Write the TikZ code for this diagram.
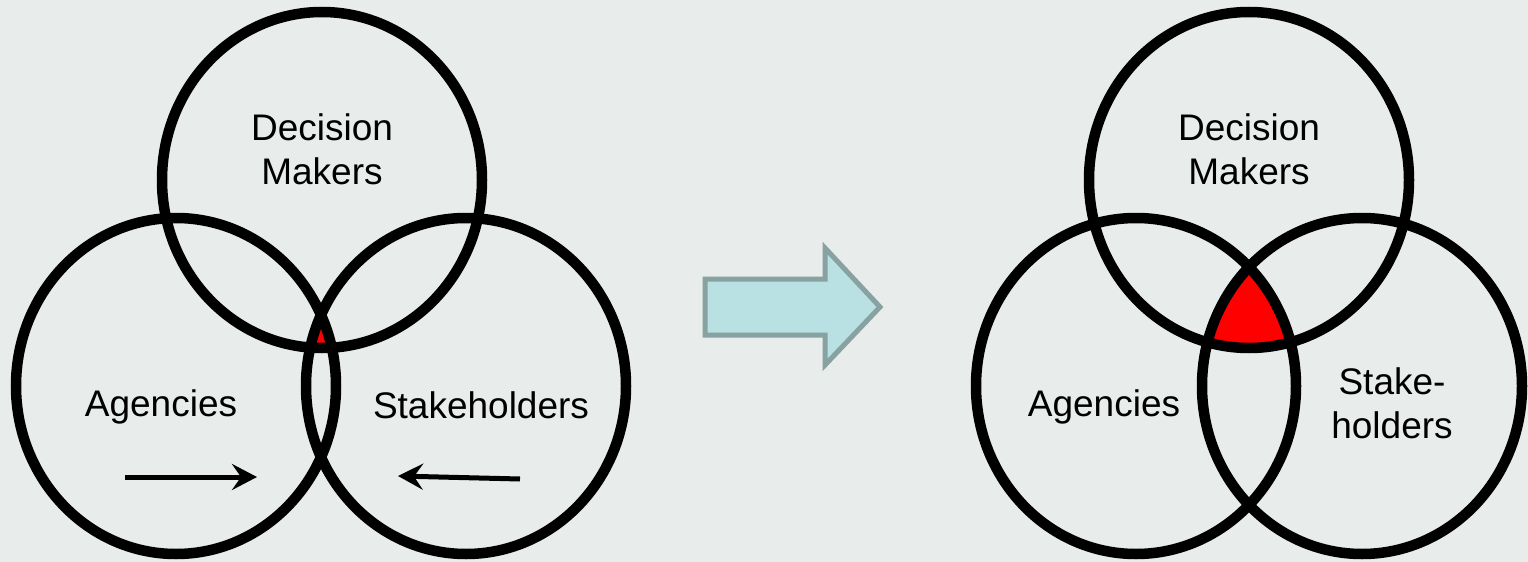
\documentclass[tikz,border=0pt]{standalone}
\usepackage{fontspec}
\setmainfont{Liberation Sans}
\usetikzlibrary{arrows.meta,positioning}

\definecolor{bggray}{HTML}{E8ECEB}
\definecolor{arrowfill}{HTML}{B9E0E3}
\definecolor{arrowline}{HTML}{88A2A2}

\tikzset{
  ring/.style={draw=black, line width=5.25pt},
  lbl/.style={align=center, font=\fontsize{18.5}{22}\selectfont, inner sep=0pt},
  flow/.style={line width=2.5pt, -{Stealth[length=12.5pt, width=13pt, inset=4.5pt]}}
}

\begin{document}
\begin{tikzpicture}[x = 0.5pt, y = -0.5pt]
\fill[bggray] (0,0) rectangle (1528,562);
\useasboundingbox (0,0) rectangle (1528,562);

% centres of the circles
\coordinate (dmL) at (322,180);
\coordinate (agL) at (176,386);
\coordinate (skL) at (466,386);
\coordinate (dmR) at (1249,180);
\coordinate (agR) at (1136,386);
\coordinate (skR) at (1362,386);

% common part in red
\begin{scope}
\clip (agL) ellipse (80pt and 84pt);
\clip (skL) ellipse (80pt and 84pt);
\fill[red] (dmL) ellipse (80pt and 84pt);
\end{scope}
\begin{scope}
\clip (agR) ellipse (80pt and 84pt);
\clip (skR) ellipse (80pt and 84pt);
\fill[red] (dmR) ellipse (80pt and 84pt);
\end{scope}

\draw[ring] (dmL) ellipse (80pt and 84pt);
\draw[ring] (agL) ellipse (80pt and 84pt);
\draw[ring] (skL) ellipse (80pt and 84pt);
\draw[ring] (dmR) ellipse (80pt and 84pt);
\draw[ring] (agR) ellipse (80pt and 84pt);
\draw[ring] (skR) ellipse (80pt and 84pt);

\node[lbl] (dmLtxt) at (322,149) {Decision\\Makers};
\node[lbl] (agLtxt) at (161,407) {Agencies};
\node[lbl] (skLtxt) at (481,405) {Stakeholders};
\node[lbl] (dmRtxt) at (1249,149) {Decision\\Makers};
\node[lbl] (agRtxt) at (1104,407) {Agencies};
\node[lbl] (skRtxt) at (1392,403) {Stake-\\holders};

% pulling together
\coordinate (agFrom) at (125,477);
\coordinate (agTo) at (257,477);
\coordinate (skFrom) at (520,479);
\coordinate (skTo) at (398,476);
\draw[flow] (agFrom) -- (agTo);
\draw[flow] (skFrom) -- (skTo);

% big arrow
\draw[arrowline, fill=arrowfill, line width=2.5pt, line join=miter]
  (705,279) -- (825,279) -- (825,248) -- (880,307) -- (825,365) -- (825,335) -- (705,335) -- cycle;
\end{tikzpicture}
\end{document}
